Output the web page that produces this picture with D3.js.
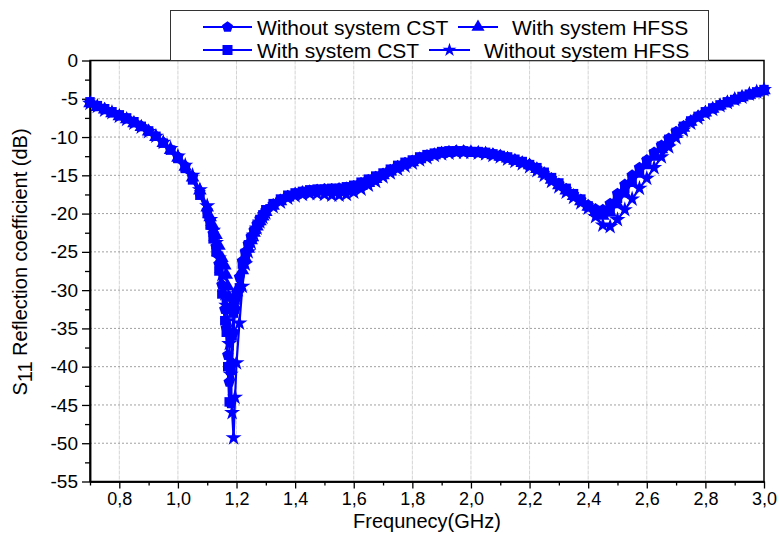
<!DOCTYPE html>
<html>
<head>
<meta charset="utf-8">
<script src="https://cdn.jsdelivr.net/npm/d3@7"></script>
<style>
  body { margin: 0; background: #fff; }
  text { font-family: "Liberation Sans", Arial, sans-serif; fill: #000; }
</style>
</head>
<body>
<div class="chart"></div>
<script>
// frequency samples (GHz), denser around the 1.18 GHz resonance
const freq = [
  0.7, 0.725, 0.75, 0.775, 0.8, 0.825, 0.85, 0.875, 0.9, 0.925, 0.95, 0.975, 1.0, 1.025, 1.05, 1.075, 1.1,
  1.11, 1.12, 1.13, 1.14, 1.15, 1.16, 1.165, 1.17, 1.175, 1.18, 1.185, 1.19, 1.195, 1.2, 1.21, 1.22, 1.23, 1.24, 1.25, 1.26, 1.27, 1.28, 1.29,
  1.3, 1.325, 1.35, 1.375, 1.4, 1.425, 1.45, 1.475, 1.5, 1.525, 1.55, 1.575, 1.6, 1.625, 1.65, 1.675, 1.7, 1.725, 1.75, 1.775,
  1.8, 1.825, 1.85, 1.875, 1.9, 1.925, 1.95, 1.975, 2.0, 2.025, 2.05, 2.075, 2.1, 2.125, 2.15, 2.175, 2.2, 2.225, 2.25, 2.275,
  2.3, 2.325, 2.35, 2.375, 2.4, 2.425, 2.45, 2.475, 2.5, 2.525, 2.55, 2.575, 2.6, 2.625, 2.65, 2.675, 2.7, 2.725, 2.75, 2.775,
  2.8, 2.825, 2.85, 2.875, 2.9, 2.925, 2.95, 2.975, 3.0
];

// S11 (dB)
const withoutSystemCST = [
  -5.5, -6.0, -6.4, -6.8, -7.2, -7.6, -8.1, -8.6, -9.2, -9.9, -10.7, -11.6, -12.6, -13.8, -15.2, -17.2, -19.6,
  -21.0, -22.6, -24.3, -26.6, -29.3, -32.5, -35.0, -38.5, -42.0, -44.8, -39.5, -35.5, -32.5, -30.8, -28.3, -26.2, -25.0, -24.0, -23.0, -22.2, -21.4, -20.7, -20.1,
  -19.6, -18.8, -18.2, -17.7, -17.4, -17.2, -17.0, -16.9, -16.8, -16.8, -16.7, -16.6, -16.4, -16.0, -15.6, -15.2, -14.8, -14.3, -13.8, -13.4,
  -13.1, -12.7, -12.4, -12.2, -12.0, -11.9, -11.8, -11.8, -11.9, -12.0, -12.1, -12.2, -12.4, -12.7, -13.0, -13.3, -13.6, -14.1, -14.7, -15.4,
  -16.1, -16.8, -17.5, -18.2, -18.9, -19.4, -19.5, -18.7, -17.4, -16.2, -15.0, -14.0, -13.0, -12.0, -11.1, -10.2, -9.3, -8.6, -7.9, -7.3,
  -6.8, -6.3, -5.9, -5.5, -5.1, -4.8, -4.5, -4.2, -3.9
];
const withSystemHFSS = [
  -5.6, -6.1, -6.4, -6.9, -7.3, -7.7, -8.2, -8.7, -9.3, -10.0, -10.8, -11.7, -12.7, -13.9, -15.3, -17.0, -19.2,
  -20.5, -21.6, -22.8, -24.2, -25.8, -26.8, -28.0, -29.5, -31.0, -32.2, -32.6, -31.8, -31.0, -30.3, -29.4, -27.4, -25.8, -24.6, -23.5, -22.5, -21.7, -21.0, -20.4,
  -19.8, -19.0, -18.4, -17.9, -17.5, -17.3, -17.2, -17.1, -17.1, -17.1, -17.1, -17.0, -16.8, -16.4, -16.0, -15.5, -15.0, -14.5, -14.0, -13.6,
  -13.3, -12.9, -12.6, -12.4, -12.2, -12.1, -12.0, -12.0, -12.1, -12.1, -12.2, -12.4, -12.6, -12.8, -13.1, -13.4, -13.7, -14.2, -14.8, -15.6,
  -16.3, -17.0, -17.7, -18.4, -19.1, -19.8, -20.3, -19.9, -18.8, -17.4, -16.0, -14.8, -13.7, -12.6, -11.6, -10.6, -9.6, -8.8, -8.0, -7.4,
  -6.8, -6.3, -5.9, -5.5, -5.1, -4.8, -4.5, -4.2, -3.9
];
const withSystemCST = [
  -5.4, -5.9, -6.3, -6.7, -7.1, -7.5, -8.0, -8.6, -9.2, -9.9, -10.8, -11.7, -12.8, -14.1, -15.6, -17.6, -20.0,
  -21.5, -23.3, -25.0, -27.5, -30.5, -34.0, -35.5, -40.0, -44.6, -40.5, -36.0, -33.0, -31.3, -30.5, -29.7, -26.6, -25.2, -24.2, -23.2, -22.3, -21.5, -20.8, -20.2,
  -19.5, -18.7, -18.1, -17.6, -17.3, -17.1, -16.9, -16.8, -16.8, -16.7, -16.7, -16.5, -16.3, -15.9, -15.5, -15.1, -14.7, -14.2, -13.7, -13.3,
  -13.0, -12.6, -12.3, -12.1, -11.9, -11.8, -11.8, -11.8, -11.9, -11.9, -12.0, -12.2, -12.4, -12.6, -12.9, -13.2, -13.6, -14.0, -14.6, -15.3,
  -16.0, -16.7, -17.4, -18.1, -19.0, -19.6, -20.0, -19.4, -18.0, -16.7, -15.4, -14.3, -13.2, -12.2, -11.2, -10.3, -9.4, -8.6, -7.9, -7.3,
  -6.7, -6.2, -5.8, -5.4, -5.1, -4.7, -4.4, -4.1, -3.8
];
const withoutSystemHFSS = [
  -5.6, -6.0, -6.5, -6.8, -7.3, -7.7, -8.2, -8.7, -9.3, -9.9, -10.7, -11.5, -12.5, -13.7, -15.0, -16.9, -19.0,
  -20.8, -22.2, -23.8, -25.8, -28.0, -30.5, -32.0, -34.0, -37.0, -41.0, -46.0, -49.3, -44.0, -39.5, -34.3, -29.5, -26.6, -25.0, -23.8, -22.8, -21.9, -21.1, -20.5,
  -19.9, -19.1, -18.5, -18.0, -17.7, -17.5, -17.4, -17.4, -17.5, -17.6, -17.6, -17.5, -17.2, -16.8, -16.3, -15.8, -15.2, -14.7, -14.2, -13.8,
  -13.4, -13.0, -12.7, -12.4, -12.2, -12.1, -12.0, -12.0, -12.0, -12.1, -12.2, -12.4, -12.6, -12.9, -13.2, -13.5, -13.9, -14.4, -15.0, -15.8,
  -16.5, -17.2, -17.9, -18.6, -19.3, -20.4, -21.5, -21.7, -20.8, -19.5, -18.1, -16.7, -15.4, -14.0, -12.6, -11.3, -10.1, -9.1, -8.2, -7.5,
  -6.9, -6.4, -5.9, -5.5, -5.1, -4.8, -4.4, -4.1, -3.8
];

const seriesNames = ["Without system CST", "With system HFSS", "With system CST", "Without system HFSS"];
const xTicks = [0.8, 1.0, 1.2, 1.4, 1.6, 1.8, 2.0, 2.2, 2.4, 2.6, 2.8, 3.0];
const xMinor = [0.7, 0.9, 1.1, 1.3, 1.5, 1.7, 1.9, 2.1, 2.3, 2.5, 2.7, 2.9];
const yTicks = [0, -5, -10, -15, -20, -25, -30, -35, -40, -45, -50, -55];
const yMinor = [-2.5, -7.5, -12.5, -17.5, -22.5, -27.5, -32.5, -37.5, -42.5, -47.5, -52.5];

const BLUE = "#0000ff";

// pentagon marker (flat bottom) for the "Without system CST" curve
const symbolPentagon = {
  draw(ctx, size) {
    const r = Math.sqrt(size / 2.378);
    for (let i = 0; i < 5; i++) {
      const a = -Math.PI / 2 + i * 2 * Math.PI / 5;
      if (i === 0) ctx.moveTo(r * Math.cos(a), r * Math.sin(a));
      else ctx.lineTo(r * Math.cos(a), r * Math.sin(a));
    }
    ctx.closePath();
  }
};

const series = [
  { name: seriesNames[0], values: withoutSystemCST, symbol: symbolPentagon, size: 85 },
  { name: seriesNames[1], values: withSystemHFSS, symbol: d3.symbolTriangle, size: 80 },
  { name: seriesNames[2], values: withSystemCST, symbol: d3.symbolSquare, size: 90 },
  { name: seriesNames[3], values: withoutSystemHFSS, symbol: d3.symbolStar, size: 80 }
];
series.forEach(s => {
  if (s.values.length !== freq.length) console.error(s.name, s.values.length, freq.length);
  s.points = freq.map((f, i) => ({ f: f, v: s.values[i] }));
});

const W = 779, H = 533;
const margin = { top: 60.5, right: 15, bottom: 51.5, left: 90 };
const width = W - margin.left - margin.right;
const height = H - margin.top - margin.bottom;

const root = d3.select(".chart").append("svg")
  .attr("width", W)
  .attr("height", H);

const svg = root.append("g")
  .attr("transform", "translate(" + margin.left + "," + margin.top + ")");

let x = d3.scaleLinear().domain([0.7, 3.0]).range([0, width]);
let y = d3.scaleLinear().domain([-55, 0]).range([height, 0]);

// grid
svg.append("g").selectAll("line")
  .data(xTicks.filter(d => d < 3.0))
  .join("line")
  .attr("x1", d => x(d)).attr("x2", d => x(d))
  .attr("y1", 0).attr("y2", height)
  .attr("stroke", "#d4d4d4")
  .attr("stroke-width", 1)
  .attr("stroke-dasharray", "4,1");

svg.append("g").selectAll("line")
  .data(yTicks.filter(d => d < 0 && d > -55))
  .join("line")
  .attr("x1", 0).attr("x2", width)
  .attr("y1", d => y(d)).attr("y2", d => y(d))
  .attr("stroke", "#a0a0a0")
  .attr("stroke-width", 1)
  .attr("stroke-dasharray", "2,2");

// axes
const yAxis = svg.append("g")
  .call(d3.axisLeft(y).tickValues(yTicks).tickSize(8).tickSizeOuter(0).tickPadding(4)
    .tickFormat(d => String(d)));
svg.append("g")
  .call(d3.axisLeft(y).tickValues(yMinor).tickSize(5).tickSizeOuter(0).tickFormat(""));

const xAxis = svg.append("g")
  .attr("transform", `translate(0,${height})`)
  .call(d3.axisBottom(x).tickValues(xTicks).tickSize(7).tickSizeOuter(0).tickPadding(4)
    .tickFormat(d => d.toFixed(1).replace(".", ",")));
svg.append("g")
  .attr("transform", `translate(0,${height})`)
  .call(d3.axisBottom(x).tickValues(xMinor).tickSize(4).tickSizeOuter(0).tickFormat(""));

svg.selectAll(".domain").attr("stroke", "#000").attr("stroke-width", 1.5);
svg.selectAll(".tick line").attr("stroke", "#000").attr("stroke-width", 1.3);
yAxis.selectAll("text").style("font-size", "19px");
xAxis.selectAll("text").style("font-size", "18px");

// frame
svg.append("rect")
  .attr("width", width).attr("height", height)
  .attr("fill", "none")
  .attr("stroke", "#000")
  .attr("stroke-width", 1.5);

// curves
const line = d3.line()
  .x(d => x(d.f))
  .y(d => y(d.v));

series.forEach(s => {
  const g = svg.append("g");
  g.append("path")
    .datum(s.points)
    .attr("fill", "none")
    .attr("stroke", BLUE)
    .attr("stroke-width", 2.2)
    .attr("d", line);
  g.selectAll("path.mk")
    .data(s.points)
    .join("path")
    .attr("class", "mk")
    .attr("transform", d => `translate(${x(d.f)},${y(d.v)})`)
    .attr("fill", BLUE)
    .attr("d", d3.symbol(s.symbol, s.size));
});

// axis titles
root.append("text")
  .attr("x", margin.left + x(1.85))
  .attr("y", 528)
  .attr("text-anchor", "middle")
  .style("font-size", "20px")
  .text("Frequnecy(GHz)");

const yt = root.append("text")
  .attr("transform", "translate(27,262) rotate(-90)")
  .attr("text-anchor", "middle")
  .style("font-size", "20px");
yt.append("tspan").text("S");
yt.append("tspan").attr("baseline-shift", "-25%").text("11");
yt.append("tspan").text(" Reflection coefficient (dB)");

// legend
const legend = root.append("g");
legend.append("rect")
  .attr("x", 170.5).attr("y", 10.5)
  .attr("width", 538).attr("height", 50)
  .attr("fill", "#fff")
  .attr("stroke", "#333")
  .attr("stroke-width", 1);

const legendPos = [
  { x0: 203, x1: 252, y: 27, tx: 257 },
  { x0: 458, x1: 498, y: 27, tx: 512 },
  { x0: 203, x1: 252, y: 50, tx: 257 },
  { x0: 429, x1: 470, y: 50, tx: 484 }
];
const legendSize = [80, 75, 100, 60];

series.forEach((s, i) => {
  const p = legendPos[i];
  legend.append("line")
    .attr("x1", p.x0).attr("x2", p.x1)
    .attr("y1", p.y).attr("y2", p.y)
    .attr("stroke", BLUE)
    .attr("stroke-width", 2);
  legend.append("path")
    .attr("transform", `translate(${(p.x0 + p.x1) / 2},${p.y})`)
    .attr("fill", BLUE)
    .attr("d", d3.symbol(s.symbol, legendSize[i]));
  legend.append("text")
    .attr("x", p.tx)
    .attr("y", p.y + 7.5)
    .style("font-size", "21px")
    .text(s.name);
});
</script>
</body>
</html>
